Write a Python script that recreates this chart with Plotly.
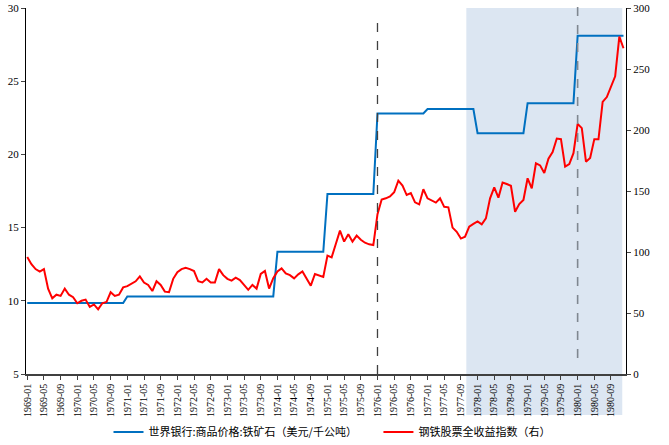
import plotly.graph_objects as go

# mois 1969-01 .. 1980-12
mois = [f"{a}-{m:02d}" for a in range(1969, 1981) for m in range(1, 13)]
etiquettes = mois[::4]

# prix annuel du minerai de fer (USD / tonne), un palier par an
annees = list(range(1969, 1981))
prix_annuel = [9.85, 9.85, 10.3, 10.3, 10.3, 13.35, 17.3, 22.8, 23.1, 21.45, 23.5, 28.1]
prix_fer = [p for p in prix_annuel for _ in range(12)]

# indice actions acier (axe droit), mensuel
indice_acier = [
    96, 90, 86, 84, 86, 70, 62, 65, 64, 70, 65, 63,
    58, 60, 61, 55, 57, 53, 58, 59, 67, 64, 65, 71,
    72, 74, 76, 80, 75, 73, 68, 76, 73, 67.5, 67, 78,
    83.5, 86, 87, 86, 84.4, 76, 75, 78, 75, 75, 86, 81,
    78, 76.5, 79, 77, 73, 69, 73, 70, 82, 84.5, 70, 78.5,
    84, 86.6, 82.5, 81, 78.4, 81.7, 84, 78.4, 72.4, 82, 80.5, 79.5,
    97, 95.6, 106.6, 117.5, 108.5, 114.5, 108.5, 113.4, 110, 107.6, 106.3, 105.7,
    131, 143, 144, 145.5, 149, 158.5, 154.5, 146.7, 148.3, 140.7, 139, 151.4,
    144, 142, 140.5, 144, 137, 136.6, 120, 116.6, 111, 112.5, 120.8, 123,
    125, 122.7, 127.6, 144, 153, 144.5, 157, 155.7, 154.3, 133, 139.3, 142.6,
    160.4, 152.2, 172.7, 171, 164.7, 176.5, 182, 193, 192.5, 170, 172, 181,
    205, 201.5, 174, 177, 192.5, 192.4, 223, 227, 236, 244, 276.5, 267,
]

nom_fer = "世界银行:商品价格:铁矿石（美元/千公吨）"
nom_acier = "钢铁股票全收益指数（右）"

police = "Liberation Serif, Times New Roman, serif"
police_cjk = "Noto Sans CJK SC"

fig = go.Figure()
# espace en fin de nom pour ecarter les deux entrees de legende
fig.add_trace(go.Scatter(x=mois, y=prix_fer, mode="lines", name=nom_fer + "\u2003\u2002",
                         line=dict(color="#0070C0", width=2)))
fig.add_trace(go.Scatter(x=mois, y=indice_acier, mode="lines", name=nom_acier,
                         line=dict(color="#FF0000", width=2), yaxis="y2"))

# zone ombrée 1977-10 -> 1980-11
i_debut = mois.index("1977-10")
i_fin = mois.index("1980-11")
fig.add_shape(type="rect", xref="x", yref="paper",
              x0=i_debut + 0.3, x1=i_fin + 0.7, y0=-0.112, y1=1,
              fillcolor="#DCE6F2", line=dict(width=0), layer="below")

# lignes verticales pointillées
fig.add_shape(type="line", xref="x", yref="paper",
              x0=mois.index("1976-01"), x1=mois.index("1976-01"), y0=0, y1=0.981,
              line=dict(color="#404040", width=1.3, dash="dash"))
fig.add_shape(type="line", xref="x", yref="paper",
              x0=mois.index("1980-01"), x1=mois.index("1980-01"), y0=0.044, y1=1.016,
              line=dict(color="#7F8790", width=1.6, dash="dash"))

fig.update_layout(
    width=669, height=445,
    margin=dict(l=26, r=43, t=8, b=71),
    paper_bgcolor="white", plot_bgcolor="rgba(0,0,0,0)",
    showlegend=True,
    legend=dict(orientation="h", x=0.51, xanchor="center",
                yref="container", y=0.029, yanchor="middle",
                font=dict(family=police_cjk, size=11, color="#000"),
                bgcolor="rgba(0,0,0,0)", itemwidth=30, tracegroupgap=0),
    xaxis=dict(type="category", range=[-0.3, 143.6], automargin=False,
               tickmode="array", tickvals=etiquettes, ticktext=etiquettes,
               tickangle=-90, ticks="outside", ticklen=4, tickcolor="#404040",
               showline=True, linecolor="#404040", linewidth=1.5,
               showgrid=False, zeroline=False,
               tickfont=dict(family=police, size=10, color="#000")),
    yaxis=dict(range=[5, 30], dtick=5, ticks="outside", ticklen=4, automargin=False,
               showline=True, linecolor="#000", linewidth=1.2,
               showgrid=False, zeroline=False,
               tickfont=dict(family=police, size=11, color="#000")),
    yaxis2=dict(range=[0, 300], dtick=50, overlaying="y", side="right", automargin=False,
                ticks="outside", ticklen=4,
                showline=True, linecolor="#000", linewidth=1.2,
                showgrid=False, zeroline=False,
                tickfont=dict(family=police, size=11, color="#000")),
)

# pas de marge du body pour que le graphique tienne dans la fenetre
fig.write_html("out.html", config={"displayModeBar": False},
               post_script="document.body.style.margin='0';document.body.style.overflow='hidden';")
